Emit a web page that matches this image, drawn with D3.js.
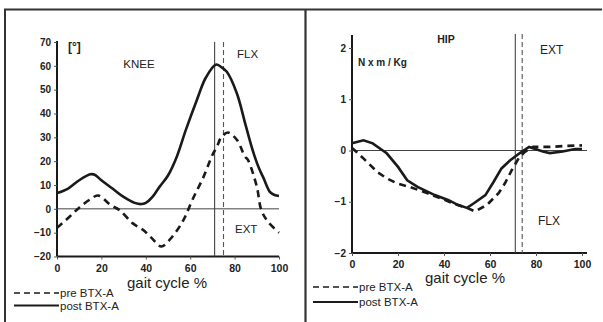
<!DOCTYPE html>
<html>
<head>
<meta charset="utf-8">
<script src="https://cdn.jsdelivr.net/npm/d3@7"></script>
<style>
  html, body { margin: 0; padding: 0; background: #fff; }
  svg { display: block; }
  text { font-family: "Liberation Sans", Arial, sans-serif; fill: #222; }
</style>
</head>
<body>
<svg id="chart" width="603" height="322"></svg>
<script>
// Knee flexion/extension angle over the gait cycle (degrees)
const kneePreX  = [0, 6, 10, 15, 18.5, 24, 28.4, 34, 38.7, 43, 47, 52, 57, 61, 66, 70, 72, 74, 77, 81, 84.6, 86, 90, 92, 95, 100];
const kneePreY  = [-8, -3, 0.5, 4, 5.6, 1.7, -0.7, -6, -8.8, -12.6, -15.8, -11.6, -4.6, 3.8, 13.4, 22.6, 26, 30, 32, 29, 22, 20.5, 9.3, -0.4, -5.4, -10];
const kneePostX = [0, 5, 10, 15, 17, 20, 25, 30, 35, 38, 40, 43, 46, 50, 54, 58, 63, 67, 71.5, 74, 76.5, 81, 85, 88, 91, 93, 96, 98, 100];
const kneePostY = [6.6, 8.5, 12, 14.5, 14.3, 12, 8.5, 5, 2.5, 2, 2.5, 5, 9, 14, 22, 33, 45.7, 55, 60.5, 59.5, 57.5, 48.5, 35, 25, 17, 13, 7, 5.8, 5.4];

// Hip moment over the gait cycle (N x m / Kg)
const hipPreX  = [0, 2, 6.5, 11, 15, 19.5, 25, 32.6, 39.5, 45.6, 50, 53.5, 58.7, 63.8, 66.5, 69.5, 72.5, 75, 78.8, 86, 93.5, 100];
const hipPreY  = [0.05, -0.03, -0.22, -0.42, -0.54, -0.64, -0.71, -0.83, -0.95, -1.06, -1.12, -1.19, -1.06, -0.83, -0.64, -0.38, -0.15, -0.03, 0.07, 0.07, 0.09, 0.1];
const hipPostX = [0, 5, 9, 14, 15, 20, 24, 28.5, 36, 42, 46, 50, 53, 58, 61.6, 65, 68.8, 73, 77, 83, 86, 91.6, 97, 100];
const hipPostY = [0.14, 0.2, 0.14, -0.02, -0.05, -0.32, -0.58, -0.71, -0.87, -0.97, -1.06, -1.12, -1.03, -0.87, -0.61, -0.35, -0.19, -0.05, 0.07, -0.02, -0.05, -0.02, 0.03, 0.03];

// Axis ticks and markers
const xTicks = [0, 20, 40, 60, 80, 100];
const kneeTicks = [-20, -10, 0, 10, 20, 30, 40, 50, 60, 70];
const hipTicks = [-2, -1, 0, 1, 2];
const kneeToeOff = [71, 75];   // [post, pre] toe-off, % gait cycle
const hipToeOff = [71, 74];
const legendLabels = ["pre BTX-A", "post BTX-A"];

const svg = d3.select("#chart");
const ink = "#1a1a1a";
const intFmt = d3.format("d");

// Panel frame
svg.append("line").attr("x1", 4).attr("x2", 602).attr("y1", 9.5).attr("y2", 9.5)
  .attr("stroke", "#333").attr("stroke-width", 2);
svg.append("line").attr("x1", 5).attr("x2", 5).attr("y1", 9).attr("y2", 322)
  .attr("stroke", "#333").attr("stroke-width", 2);
svg.append("line").attr("x1", 305.5).attr("x2", 305.5).attr("y1", 9).attr("y2", 322)
  .attr("stroke", "#333").attr("stroke-width", 2.2);

function panel(cfg) {
  const g = svg.append("g");
  const x = d3.scaleLinear().domain([0, 100]).range(cfg.xRange);
  const y = d3.scaleLinear().domain(cfg.yDomain).range(cfg.yRange);

  // y axis
  const yAxis = d3.axisLeft(y).tickValues(cfg.yTicks).tickFormat(intFmt).tickSize(3).tickPadding(3);
  const ya = g.append("g").attr("transform", `translate(${cfg.xRange[0]},0)`).call(yAxis);
  ya.select(".domain").attr("d", `M0,${cfg.yTop}V${y(cfg.yDomain[0])}`)
    .attr("stroke", ink).attr("stroke-width", 2);
  ya.selectAll(".tick line").attr("stroke", "#555");
  ya.selectAll("text").attr("font-size", 10).attr("font-weight", "bold").attr("fill", "#333");

  // x axis
  const xAxis = d3.axisBottom(x).tickValues(xTicks).tickFormat(intFmt).tickSize(3).tickPadding(5);
  const xa = g.append("g").attr("transform", `translate(0,${y(cfg.yDomain[0])})`).call(xAxis);
  xa.select(".domain").attr("d", `M${cfg.xRange[0]},0H${cfg.xEnd}`)
    .attr("stroke", ink).attr("stroke-width", 2);
  xa.selectAll(".tick line").attr("stroke", "#555");
  xa.selectAll("text").attr("font-size", 10.5).attr("font-weight", "bold").attr("fill", "#333");

  // zero line
  g.append("line").attr("x1", cfg.xRange[0]).attr("x2", cfg.xEnd)
    .attr("y1", y(0)).attr("y2", y(0)).attr("stroke", "#444").attr("stroke-width", 1);

  // toe-off markers
  g.append("line").attr("x1", x(cfg.toeOff[0])).attr("x2", x(cfg.toeOff[0]))
    .attr("y1", cfg.markTop).attr("y2", y(cfg.yDomain[0]))
    .attr("stroke", "#444").attr("stroke-width", 1.1);
  g.append("line").attr("x1", x(cfg.toeOff[1])).attr("x2", x(cfg.toeOff[1]))
    .attr("y1", cfg.markTop).attr("y2", y(cfg.yDomain[0]))
    .attr("stroke", "#555").attr("stroke-width", 1.1).attr("stroke-dasharray", "5,3");

  const line = d3.line().x(d => x(d[0])).y(d => y(d[1])).curve(cfg.curve);
  g.append("path").datum(d3.zip(cfg.preX, cfg.preY)).attr("d", line)
    .attr("fill", "none").attr("stroke", ink).attr("stroke-width", 2.6)
    .attr("stroke-dasharray", "7,5");
  g.append("path").datum(d3.zip(cfg.postX, cfg.postY)).attr("d", line)
    .attr("fill", "none").attr("stroke", ink).attr("stroke-width", 2.6);

  // labels
  cfg.labels.forEach(l => {
    g.append("text").attr("x", l.x).attr("y", l.y).attr("text-anchor", l.anchor || "start")
      .attr("font-size", l.size).attr("font-weight", l.weight || "normal").text(l.text);
  });

  // legend
  const lg = g.append("g");
  cfg.legendY.forEach((ly, i) => {
    lg.append("line").attr("x1", cfg.legendX[0]).attr("x2", cfg.legendX[1])
      .attr("y1", ly).attr("y2", ly).attr("stroke", ink)
      .attr("stroke-width", i === 0 ? 1.6 : 2.2)
      .attr("stroke-dasharray", i === 0 ? "6,4" : null);
    lg.append("text").attr("x", cfg.legendX[1] + 1).attr("y", ly + 4)
      .attr("font-size", 11.5).text(legendLabels[i]);
  });
}

panel({
  xRange: [57, 279], xEnd: 279,
  yDomain: [-20, 70], yRange: [256.5, 42], yTop: 41, yTicks: kneeTicks,
  toeOff: kneeToeOff, markTop: 42,
  preX: kneePreX, preY: kneePreY, postX: kneePostX, postY: kneePostY,
  curve: d3.curveCatmullRom,
  labels: [
    { text: "[°]", x: 68, y: 51, size: 12, weight: "bold" },
    { text: "KNEE", x: 139, y: 68, size: 11.5, anchor: "middle" },
    { text: "FLX", x: 237, y: 58, size: 11.5 },
    { text: "EXT", x: 235, y: 233, size: 11.5 },
    { text: "gait cycle %", x: 167, y: 288, size: 15, anchor: "middle" }
  ],
  legendX: [14, 59], legendY: [293, 305.5]
});

panel({
  xRange: [352, 582], xEnd: 587,
  yDomain: [-2, 2], yRange: [253, 48], yTop: 35, yTicks: hipTicks,
  toeOff: hipToeOff, markTop: 34,
  preX: hipPreX, preY: hipPreY, postX: hipPostX, postY: hipPostY,
  curve: d3.curveLinear,
  labels: [
    { text: "HIP", x: 446, y: 43, size: 10.5, weight: "bold", anchor: "middle" },
    { text: "N x m / Kg", x: 358, y: 66, size: 10, weight: "bold" },
    { text: "EXT", x: 540, y: 54, size: 12 },
    { text: "FLX", x: 538, y: 225, size: 12 },
    { text: "gait cycle %", x: 465, y: 283, size: 15, anchor: "middle" }
  ],
  legendX: [313, 358], legendY: [287, 302]
});
</script>
</body>
</html>
